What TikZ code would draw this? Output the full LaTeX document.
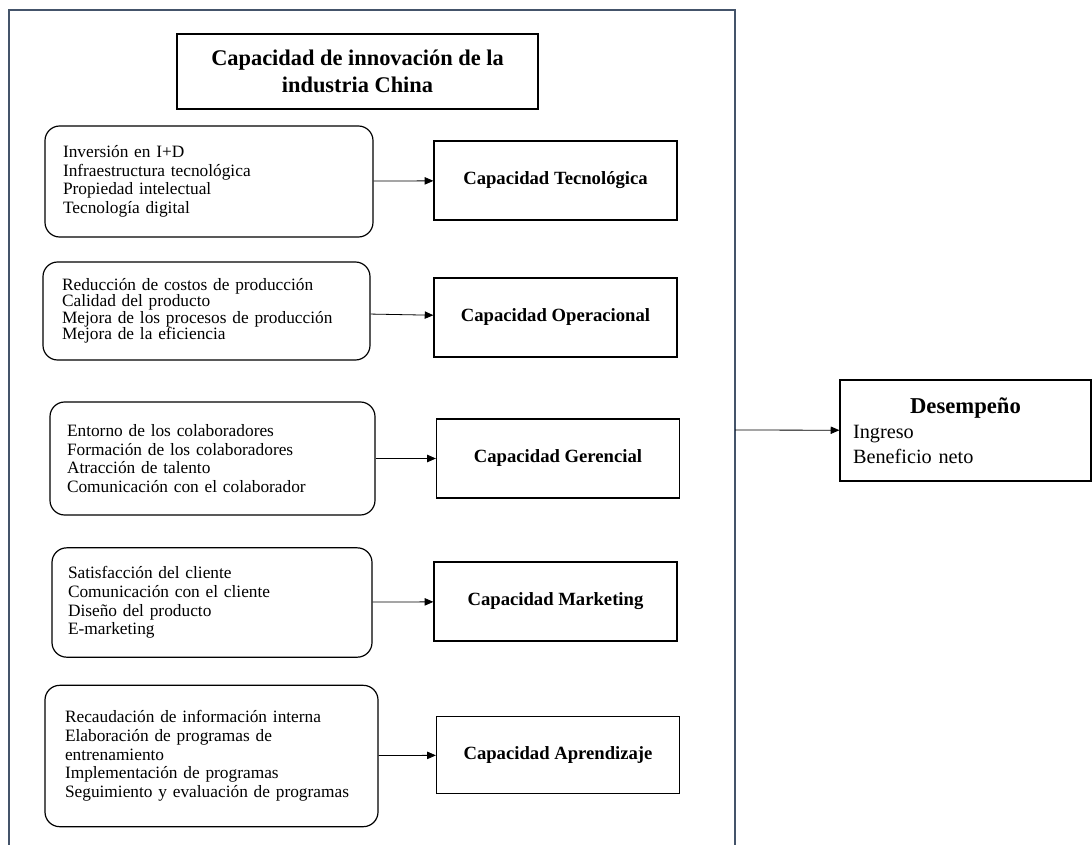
\documentclass[tikz,border=0pt]{standalone}
\usepackage{fontspec}
\setmainfont{Liberation Serif}
\usepackage{tikz}
\usetikzlibrary{arrows.meta}
\definecolor{frameblue}{HTML}{44546A}
\tikzset{
  lst/.style={draw, line width=0.9pt, rounded corners=11pt, align=left, inner xsep=0pt, font=\fontsize{13}{14}\selectfont},
  capbox/.style={draw, line width=0.9pt, minimum width=182.25pt, minimum height=59.25pt, font=\fontsize{14}{16}\selectfont\bfseries},
  ttl/.style={draw, line width=0.9pt, align=center, minimum width=270.75pt, minimum height=56.25pt, font=\fontsize{16.8}{20}\selectfont\bfseries},
  arr/.style={-{Triangle[length=6.5pt,width=5.5pt]}, line width=0.6pt}
}

\begin{document}
\begin{tikzpicture}[x=0.75pt, y=-0.75pt]
\useasboundingbox (0,0) rectangle (1092,845);
\draw[frameblue, line width=1.1pt] (9,850) -- (9,10) -- (735,10) -- (735,850);
\coordinate (fr) at (735,430);

\node[ttl] (title) at (357.5,71.5) {Capacidad de innovación de la\\industria China};

\node[lst, minimum width=246pt, minimum height=83.25pt, text width=219pt] (b1) at (209,181.5)
  {Inversión en I+D\\Infraestructura tecnológica\\Propiedad intelectual\\Tecnología digital};
\node[lst, minimum width=245.25pt, minimum height=73.5pt, text width=216.75pt, font=\fontsize{13}{12.4}\selectfont] (b2) at (206.5,311)
  {Reducción de costos de producción\\Calidad del producto\\Mejora de los procesos de producción\\Mejora de la eficiencia};
\node[lst, minimum width=243.75pt, minimum height=84.75pt, text width=218.25pt] (b3) at (212.5,458.5)
  {Entorno de los colaboradores\\Formación de los colaboradores\\Atracción de talento\\Comunicación con el colaborador};
\node[lst, minimum width=240pt, minimum height=82pt, text width=216pt] (b4) at (212,602.5)
  {Satisfacción del cliente\\Comunicación con el cliente\\Diseño del producto\\E-marketing};
\node[lst, minimum width=249.75pt, minimum height=106pt, text width=219.75pt] (b5) at (211.5,756)
  {Recaudación de información interna\\Elaboración de programas de\\entrenamiento\\Implementación de programas\\Seguimiento y evaluación de programas};

\node[capbox] (t1) at (555.5,180.5) {Capacidad Tecnológica};
\node[capbox] (t2) at (555.5,317.5) {Capacidad Operacional};
\node[capbox] (t3) at (558,458.5) {Capacidad Gerencial};
\node[capbox] (t4) at (555.5,601.5) {Capacidad Marketing};
\node[capbox, minimum height=57.75pt] (t5) at (558,755) {Capacidad Aprendizaje};

\node[draw, line width=0.9pt, minimum width=188.25pt, minimum height=75.75pt, text width=168.75pt, inner xsep=0pt, align=left, font=\fontsize{15.2}{18.75}\selectfont] (des) at (965.5,430.5)
  {{\centering\fontsize{17}{20}\selectfont\bfseries Desempeño\par}Ingreso\\Beneficio neto};

\foreach \i in {1,...,5}
  \draw[arr] (b\i) -- (t\i);
\draw[arr] (fr) -- (des);
\end{tikzpicture}
\end{document}
